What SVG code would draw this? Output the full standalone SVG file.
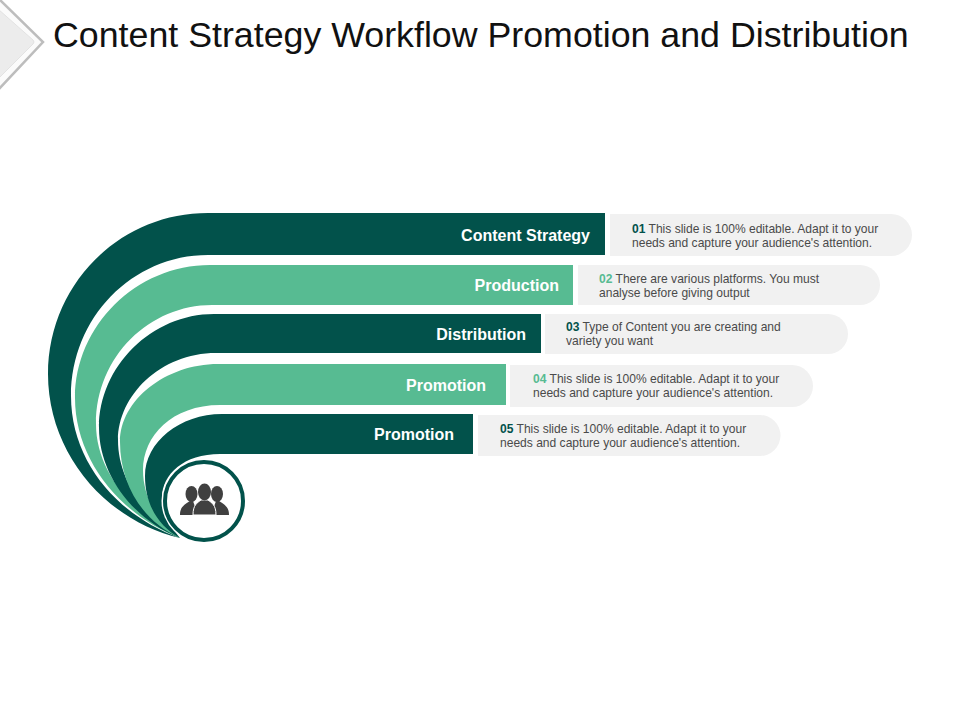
<svg xmlns="http://www.w3.org/2000/svg" width="960" height="720" viewBox="0 0 960 720">
<style>
text{font-family:"Liberation Sans",Arial,sans-serif}
.title{font-size:35.75px;fill:#111}
.lab{font-size:16px;font-weight:bold;fill:#fff;text-anchor:end}
.d{font-size:12.05px;fill:#4a4a4a}
.n{font-weight:bold}
.dk{fill:#02524b}
.lt{fill:#57bb92}
.pill{fill:#f1f1f1}
</style>
<g id="corner">
<path d="M-2 -2L43 42L-2 90" fill="#fbfbfb" stroke="#bdbdbd" stroke-width="2.500"/>
<path d="M-2 9L33 40Q35 42 33 44L-2 79Z" fill="#ececec" stroke="#e2e2e2" stroke-width="1"/>
</g>
<text class="title" x="53" y="47">Content Strategy Workflow Promotion and Distribution</text>
<g id="band1"><path class="dk" d="M605 213H208C118 213 48 286 48 374C48 452 104 520 180 538C118 516 71 462 71 396C71 318 132 255 208 255H605Z"/></g>
<g id="band2"><path class="lt" d="M573 265H210C136 265 75 326 75 398C75 458 118 514 180 538C130 512 96 470 96 424C96 356 150 305 212 305H573Z"/></g>
<g id="band3"><path class="dk" d="M541 314H214C152 314 99 366 99 428C99 472 130 518 180 538C142 514 118 478 118 440C118 396 160 353 216 353H541Z"/></g>
<g id="band4"><path class="lt" d="M506 364H218C166 364 120 400 120 442C120 486 144 522 180 538C156 520 143 496 143 470C143 436 172 405 220 405H506Z"/></g>
<g id="band5"><path class="dk" d="M473 414H222C180 414 145 442 145 476C145 504 158 526 180 538C170 526 162 512 162 498C162 474 184 454 220 454H473Z"/></g>
<g id="hub">
<circle cx="204" cy="501" r="42.500" fill="#fff"/>
<circle cx="204" cy="501" r="39" fill="#fff" stroke="#02524b" stroke-width="4"/>
<g fill="#404040">
<ellipse cx="191.500" cy="494" rx="6" ry="8"/><ellipse cx="217" cy="494" rx="6" ry="8"/>
<path d="M180 515C180 507 184 505 190 501H193L198 515Z"/>
<path d="M229 515C229 507 225 505 219 501H216L211 515Z"/>
<path d="M193 515C193 505 197 503 201 500H208C212 503 216 505 216 515Z" stroke="#fff" stroke-width="1"/>
<ellipse cx="204.500" cy="492" rx="6.500" ry="8.500"/>
</g>
</g>
<g id="item1"><path class="pill" d="M610 214H891a21 21 0 0 1 0 42H610Z"/>
<text class="lab" x="590" y="241">Content Strategy</text>
<text class="d" x="632" y="233"><tspan class="n" fill="#02524b">01</tspan> This slide is 100% editable. Adapt it to your</text>
<text class="d" x="632" y="247">needs and capture your audience's attention.</text></g>
<g id="item2"><path class="pill" d="M578 265H860a20 20 0 0 1 0 40H578Z"/>
<text class="lab" x="559" y="291">Production</text>
<text class="d" x="599" y="283"><tspan class="n" fill="#57bb92">02</tspan> There are various platforms. You must</text>
<text class="d" x="599" y="297">analyse before giving output</text></g>
<g id="item3"><path class="pill" d="M545 314H828a20 20 0 0 1 0 40H545Z"/>
<text class="lab" x="526" y="340">Distribution</text>
<text class="d" x="566" y="331"><tspan class="n" fill="#02524b">03</tspan> Type of Content you are creating and</text>
<text class="d" x="566" y="345">variety you want</text></g>
<g id="item4"><path class="pill" d="M510 365H792a21 21 0 0 1 0 42H510Z"/>
<text class="lab" x="486" y="391">Promotion</text>
<text class="d" x="533" y="383"><tspan class="n" fill="#57bb92">04</tspan> This slide is 100% editable. Adapt it to your</text>
<text class="d" x="533" y="397">needs and capture your audience's attention.</text></g>
<g id="item5"><path class="pill" d="M478 415H760a20.500 20.500 0 0 1 0 41H478Z"/>
<text class="lab" x="454" y="440">Promotion</text>
<text class="d" x="500" y="433"><tspan class="n" fill="#02524b">05</tspan> This slide is 100% editable. Adapt it to your</text>
<text class="d" x="500" y="447">needs and capture your audience's attention.</text></g>
</svg>
